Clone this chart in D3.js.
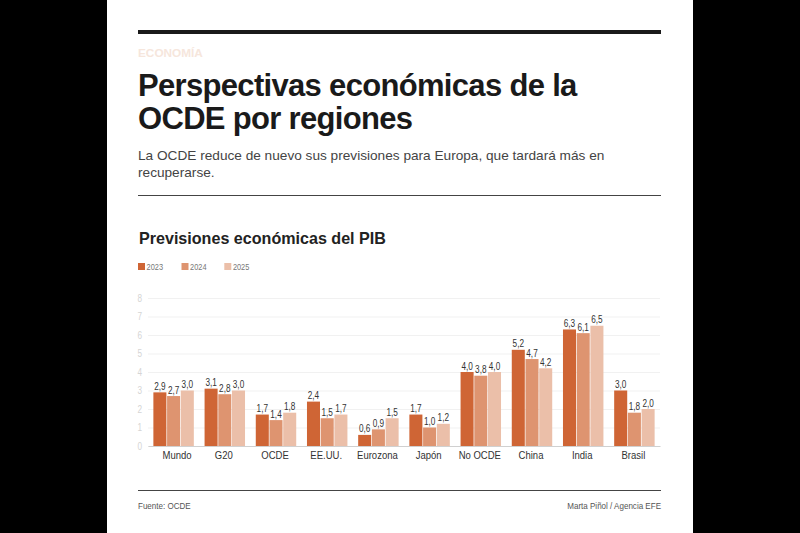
<!DOCTYPE html>
<html><head><meta charset="utf-8">
<script src="https://cdn.jsdelivr.net/npm/d3@7"></script>
<style>
html,body{margin:0;padding:0;background:#000;width:800px;height:533px;overflow:hidden}
svg{display:block}
text{font-family:"Liberation Sans",Arial,sans-serif}
</style></head><body>
<svg id="c" width="800" height="533"></svg>
<script>
const categories=["Mundo","G20","OCDE","EE.UU.","Eurozona","Japón","No OCDE","China","India","Brasil"];
const years=["2023","2024","2025"];
const v2023=[2.9,3.1,1.7,2.4,0.6,1.7,4.0,5.2,6.3,3.0];
const v2024=[2.7,2.8,1.4,1.5,0.9,1.0,3.8,4.7,6.1,1.8];
const v2025=[3.0,3.0,1.8,1.7,1.5,1.2,4.0,4.2,6.5,2.0];
const yTicks=[0,1,2,3,4,5,6,7,8];
const series=[v2023,v2024,v2025];
const colors=["#cf6535","#de9470","#ebbfa9"];

const svg=d3.select("#c");
svg.append("rect").attr("x",107).attr("y",0).attr("width",586).attr("height",533).attr("fill","#fff");
svg.append("rect").attr("x",138).attr("y",30).attr("width",523).attr("height",4).attr("fill","#1a1a1a");
const T=(s,x,y,size,fill,weight,anchor)=>svg.append("text").text(s).attr("x",x).attr("y",y)
  .attr("font-size",size).attr("fill",fill).attr("font-weight",weight||400).attr("text-anchor",anchor||"start");
T("ECONOMÍA",138,57,11.8,"#f6e6dc",700);
T("Perspectivas económicas de la",138,96,31,"#1a1a1a",700).attr("letter-spacing",-0.68);
T("OCDE por regiones",138,129,31,"#1a1a1a",700).attr("letter-spacing",-0.68);
T("La OCDE reduce de nuevo sus previsiones para Europa, que tardará más en",138,160,13.65,"#444");
T("recuperarse.",138,177,13.65,"#444");
svg.append("rect").attr("x",138).attr("y",195).attr("width",523).attr("height",1).attr("fill","#444");
T("Previsiones económicas del PIB",139,244,16.1,"#222",700);

const legendX=d3.scaleOrdinal().domain(years).range([138,181.5,224.3]);
years.forEach((y,i)=>{
  svg.append("rect").attr("x",legendX(y)).attr("y",263).attr("width",7).attr("height",7).attr("fill",colors[i]);
  T(y,legendX(y)+8.6,270,9,"#777").attr("class","n");
});

const y=d3.scaleLinear().domain([0,8]).range([446,298]);
const x=d3.scaleBand().domain(categories).range([148,660]).paddingInner(0.21).paddingOuter(0.105);
const x1=d3.scaleBand().domain([0,1,2]).range([0,x.bandwidth()]).paddingInner(0.05);

const axisY=svg.append("g").attr("transform","translate(148,0)")
  .call(d3.axisLeft(y).tickValues(yTicks).tickSize(-512).tickFormat(d3.format("d")));
axisY.select(".domain").remove();
axisY.selectAll("line").attr("stroke","#f1f1f1");
axisY.selectAll("text").attr("class","n").attr("x",-6).attr("font-size",10).attr("fill","#d5d5d5")
  .style("font-family",'"Liberation Sans",Arial,sans-serif');

const groups=svg.append("g").selectAll("g").data(categories).join("g")
  .attr("transform",d=>`translate(${x(d)},0)`);
series.forEach((vals,s)=>{
  groups.append("rect").attr("x",x1(s)).attr("width",x1.bandwidth())
    .attr("y",(d,i)=>y(vals[i])).attr("height",(d,i)=>y(0)-y(vals[i])).attr("fill",colors[s]);
  groups.append("text").attr("class","n").attr("x",x1(s)+x1.bandwidth()/2).attr("y",(d,i)=>y(vals[i])-2.5)
    .attr("text-anchor","middle").attr("font-size",10).attr("fill","#333")
    .text((d,i)=>d3.format(".1f")(vals[i]).replace(".",","));
});

const axisX=svg.append("g").attr("transform","translate(0,446)")
  .call(d3.axisBottom(x).tickSize(0));
axisX.select(".domain").attr("stroke","#d0d0d0").attr("stroke-width",1.2);
axisX.selectAll("text").attr("class","n").attr("y",5).attr("font-size",11.6).attr("fill","#333")
  .attr("x",d=>d==="Mundo"?3.5:-1)
  .style("font-family",'"Liberation Sans",Arial,sans-serif');

svg.append("rect").attr("x",138).attr("y",490).attr("width",523).attr("height",1).attr("fill","#444");
T("Fuente: OCDE",138,509,9.8,"#555").attr("class","n");
T("Marta Piñol / Agencia EFE",661,509,9.8,"#555",400,"end").attr("class","n");

// condensed look of the small labels
svg.selectAll("text.n").each(function(){
  const w=this.getComputedTextLength();
  d3.select(this).attr("textLength",w*0.82).attr("lengthAdjust","spacingAndGlyphs");
});
</script></body></html>
